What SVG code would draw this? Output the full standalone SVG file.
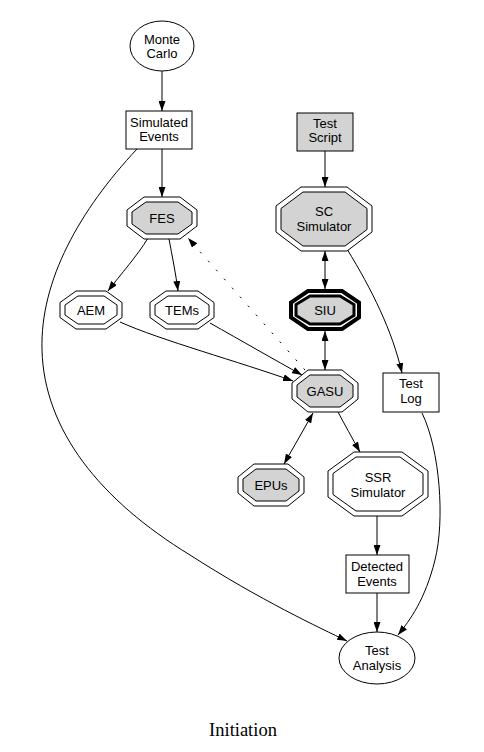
<svg xmlns="http://www.w3.org/2000/svg" width="484" height="752" viewBox="0 0 484 752">
<style>
.n{fill:#fff;stroke:#000;stroke-width:1}
.g{fill:#d3d3d3;stroke:#000;stroke-width:1}
.w{fill:none;stroke:#000;stroke-width:1}
text{font-family:"Liberation Sans",Arial,sans-serif;font-size:13px;text-anchor:middle;fill:#000}
.e{fill:none;stroke:#000;stroke-width:1}
.d{stroke-dasharray:2,10}
.t{font-family:"Liberation Serif","Times New Roman",serif;font-size:18.5px}
</style>
<defs>
<marker id="a" viewBox="0 0 10 7" refX="10" refY="3.5" markerWidth="10" markerHeight="7" orient="auto-start-reverse" markerUnits="userSpaceOnUse"><path d="M0,0L10,3.5L0,7z" fill="#000"/></marker>
</defs>
<rect width="484" height="752" fill="#fff"/>
<g id="edges">
<path class="e" d="M162,71L162,111" marker-end="url(#a)"/>
<path class="e" d="M162,149L162,197" marker-end="url(#a)"/>
<path class="e" d="M148,238C138,255 120,275 108,291" marker-end="url(#a)"/>
<path class="e" d="M169,239C172,255 176,275 178,291" marker-end="url(#a)"/>
<path class="e" d="M120,322C160,340 240,362 293,381" marker-end="url(#a)"/>
<path class="e" d="M210,323C240,340 275,360 302,375" marker-end="url(#a)"/>
<path class="e d" d="M305,370L188,238" marker-end="url(#a)"/>
<path class="e" d="M325,151L325,187" marker-end="url(#a)"/>
<path class="e" d="M325,251L325,289" marker-start="url(#a)" marker-end="url(#a)"/>
<path class="e" d="M325,331L325,370" marker-start="url(#a)" marker-end="url(#a)"/>
<path class="e" d="M347,249C372,290 392,330 402,373" marker-end="url(#a)"/>
<path class="e" d="M313,413L284,464" marker-start="url(#a)" marker-end="url(#a)"/>
<path class="e" d="M338,412C345,425 352,438 360,452" marker-end="url(#a)"/>
<path class="e" d="M377,516L377,555" marker-end="url(#a)"/>
<path class="e" d="M377,593L377,632" marker-end="url(#a)"/>
<path class="e" d="M422,413C440,450 445,520 435,560C425,600 410,620 398,635" marker-end="url(#a)"/>
<path class="e" d="M137,149C80,210 40,280 42,350C44,430 100,500 190,555C260,600 320,628 347,641" marker-end="url(#a)"/>
</g>
<g id="monte_carlo">
<ellipse class="n" cx="162" cy="46" rx="32" ry="25"/>
<text x="162" y="44">Monte</text><text x="162" y="58">Carlo</text>
</g>
<g id="simulated_events">
<rect class="n" x="126" y="111" width="66" height="38"/>
<text x="159" y="127">Simulated</text><text x="159" y="141">Events</text>
</g>
<g id="test_script">
<rect class="g" x="297" y="113" width="56" height="38"/>
<text x="325" y="128">Test</text><text x="325" y="142">Script</text>
</g>
<g id="sc_simulator">
<polygon class="n" points="301,187 347,187 372,206 372,232 347,251 301,251 276,232 276,206"/>
<polygon class="g" points="303,192 345,192 367,208.5 367,229.5 345,246 303,246 281,229.5 281,208.5"/>
<text x="324" y="216">SC</text><text x="324" y="231">Simulator</text>
</g>
<g id="fes">
<polygon class="n" points="144,197 180,197 197,210 197,226 180,239 144,239 127,226 127,210"/>
<polygon class="g" points="146,202 178,202 192,212 192,224 178,234 146,234 132,224 132,212"/>
<text x="162" y="223">FES</text>
</g>
<g id="aem">
<polygon class="n" points="76,291 106,291 122,302.5 122,317.5 106,329 76,329 60,317.5 60,302.5"/>
<polygon class="n" points="78,296 104,296 117,305 117,315 104,324 78,324 65,315 65,305"/>
<text x="91" y="315">AEM</text>
</g>
<g id="tems">
<polygon class="n" points="166,291 198,291 214,302.5 214,317.5 198,329 166,329 150,317.5 150,302.5"/>
<polygon class="n" points="168,296 196,296 209,305 209,315 196,324 168,324 155,315 155,305"/>
<text x="182" y="315">TEMs</text>
</g>
<g id="siu">
<polygon class="n" style="stroke-width:4" points="308,291 342,291 359,302.5 359,317.5 342,329 308,329 291,317.5 291,302.5"/>
<polygon class="g" style="stroke-width:3" points="310,296 340,296 354,304.5 354,315.5 340,324 310,324 296,315.5 296,304.5"/>
<text x="325" y="315">SIU</text>
</g>
<g id="gasu">
<polygon class="n" points="308,370 342,370 358,383 358,399 342,412 308,412 292,399 292,383"/>
<polygon class="g" points="310,375 340,375 353,385 353,397 340,407 310,407 297,397 297,385"/>
<text x="325" y="396">GASU</text>
</g>
<g id="test_log">
<rect class="n" x="383" y="373" width="56" height="39"/>
<text x="411" y="388">Test</text><text x="411" y="403">Log</text>
</g>
<g id="epus">
<polygon class="n" points="254,464 288,464 304,477 304,493 288,506 254,506 238,493 238,477"/>
<polygon class="g" points="256,469 286,469 299,479 299,491 286,501 256,501 243,491 243,479"/>
<text x="271" y="490">EPUs</text>
</g>
<g id="ssr_simulator">
<polygon class="n" points="354,452 402,452 428,471 428,497 402,516 354,516 328,497 328,471"/>
<polygon class="n" points="356,457 400,457 423,473.5 423,494.5 400,511 356,511 333,494.5 333,473.5"/>
<text x="378" y="482">SSR</text><text x="378" y="497">Simulator</text>
</g>
<g id="detected_events">
<rect class="n" x="346" y="555" width="63" height="38"/>
<text x="377" y="571">Detected</text><text x="377" y="586">Events</text>
</g>
<g id="test_analysis">
<ellipse class="n" cx="377" cy="658" rx="38" ry="26"/>
<text x="377" y="655">Test</text><text x="377" y="670">Analysis</text>
</g>
<text class="t" x="243" y="736">Initiation</text>
</svg>
